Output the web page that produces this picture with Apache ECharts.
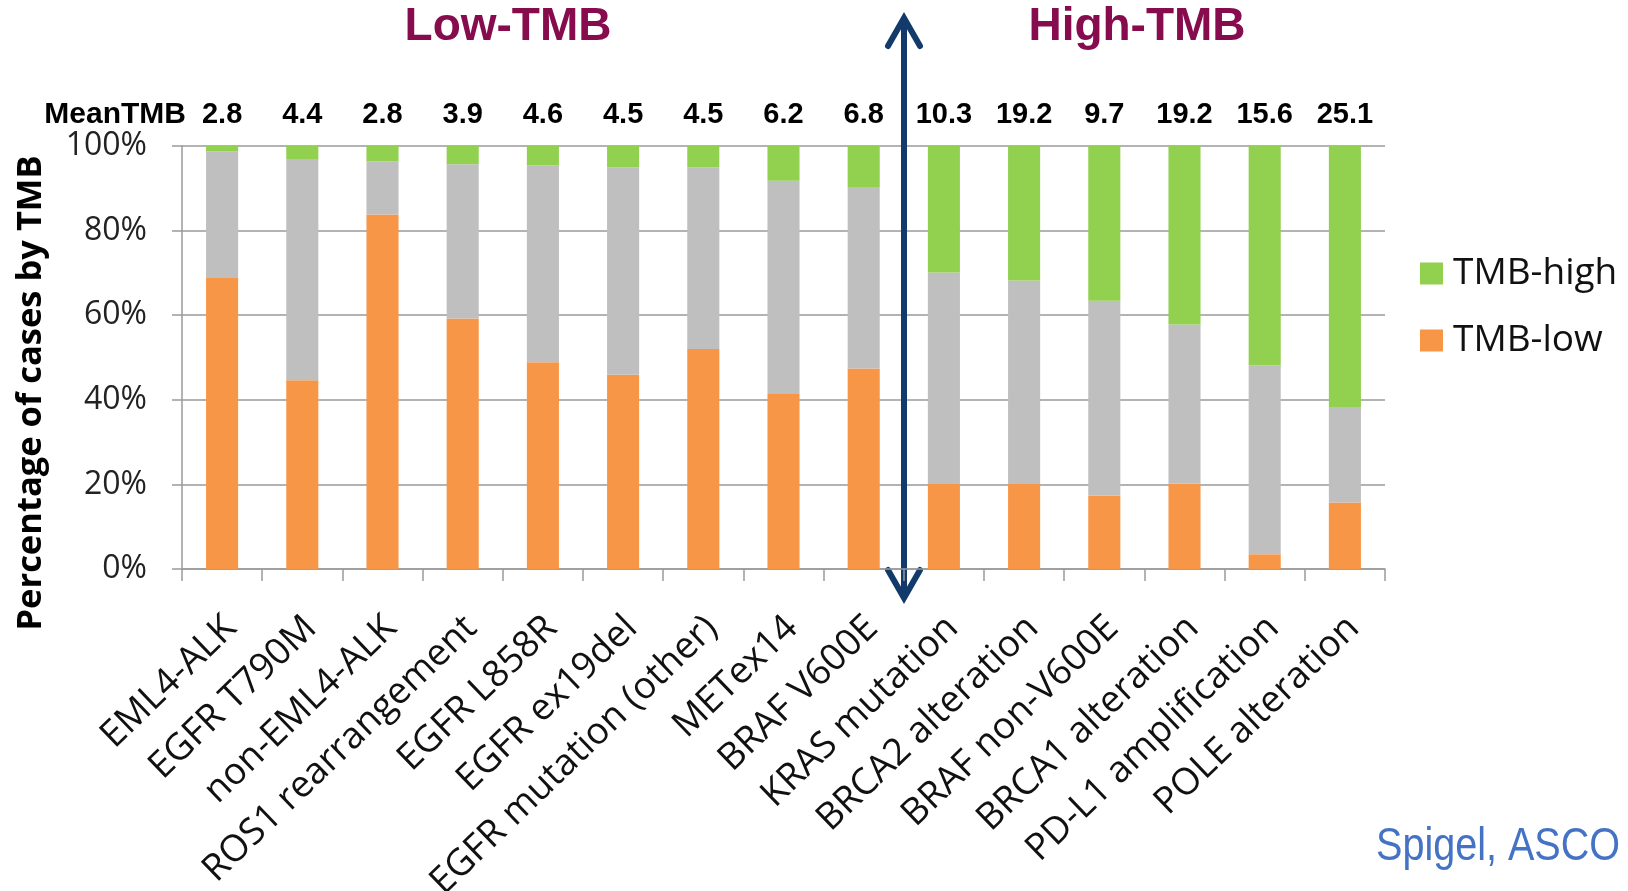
<!DOCTYPE html>
<html>
<head>
<meta charset="utf-8">
<title>Percentage of cases by TMB</title>
<script src="https://cdn.jsdelivr.net/npm/echarts@6/dist/echarts.min.js"></script>
<style>
  html, body { margin: 0; padding: 0; background: #ffffff; }
  #chart { width: 1628px; height: 891px; }
</style>
</head>
<body>
<div id="chart"></div>
<script>
// Genomic alteration groups, ordered from low to high mean TMB
const categories = [
  'EML4-ALK', 'EGFR T790M', 'non-EML4-ALK', 'ROS1 rearrangement', 'EGFR L858R',
  'EGFR ex19del', 'EGFR mutation (other)', 'METex14', 'BRAF V600E', 'KRAS mutation',
  'BRCA2 alteration', 'BRAF non-V600E', 'BRCA1 alteration', 'PD-L1 amplification', 'POLE alteration'
];

// Mean TMB per group (printed above each bar)
const meanTMB = ['2.8', '4.4', '2.8', '3.9', '4.6', '4.5', '4.5', '6.2', '6.8', '10.3', '19.2', '9.7', '19.2', '15.6', '25.1'];

// Share of cases (%) in each TMB band
const tmbLow  = [69.0, 44.6, 83.8, 59.2, 48.9, 45.9, 52.0, 41.4, 47.4, 20.1, 20.3, 17.4, 20.2, 3.5, 15.7];
const tmbMid  = [29.7, 52.3, 12.6, 36.5, 46.5, 49.1, 43.0, 50.4, 42.9, 50.0, 47.9, 46.0, 37.6, 44.6, 22.6];
const tmbHigh = [1.3, 3.1, 3.6, 4.3, 4.6, 5.0, 5.0, 8.2, 9.7, 29.9, 31.8, 36.6, 42.2, 51.9, 61.7];

// Index of the first group on the high-TMB side of the divider
const highStart = 9;

const BODY_FONT = '"Open Sans", "Noto Sans", sans-serif';
const HEAD_FONT = '"Liberation Sans", Arial, sans-serif';
const ARROW_COLOR = '#123A6B';
const TITLE_COLOR = '#860C4E';

const chart = echarts.init(document.getElementById('chart'), null, { renderer: 'canvas' });

const option = {
  backgroundColor: '#ffffff',
  animation: false,
  grid: {
    left: 182, right: 243, top: 146, bottom: 322,
    containLabel: false,
    outerBoundsMode: 'none'
  },
  legend: {
    orient: 'vertical',
    left: 1415,
    top: 250,
    itemWidth: 23,
    itemHeight: 22,
    itemGap: 30,
    icon: 'rect',
    data: ['TMB-high', 'TMB-low'],
    textStyle: {
      fontFamily: BODY_FONT,
      fontSize: 37,
      color: '#111111',
      lineHeight: 36,
      padding: [0, 0, 0, 5]
    }
  },
  xAxis: [
    {
      type: 'category',
      data: categories,
      position: 'bottom',
      axisLine: { show: true, lineStyle: { color: '#9A9A9A', width: 1.5 } },
      axisTick: { show: true, length: 12, lineStyle: { color: '#9A9A9A', width: 1.5 } },
      axisLabel: {
        interval: 0,
        rotate: 44,
        margin: 36,
        align: 'right',
        verticalAlign: 'top',
        padding: [0, 6, 0, 0],
        fontFamily: BODY_FONT,
        fontSize: 37,
        color: '#111111'
      },
      splitLine: { show: false }
    },
    {
      type: 'category',
      data: meanTMB,
      position: 'top',
      axisLine: { show: false },
      axisTick: { show: false },
      splitLine: { show: false },
      axisLabel: {
        interval: 0,
        margin: 31,
        verticalAlign: 'middle',
        fontFamily: HEAD_FONT,
        fontWeight: 'bold',
        fontSize: 29,
        color: '#000000'
      }
    }
  ],
  yAxis: {
    type: 'value',
    min: 0,
    max: 100,
    interval: 20,
    axisLine: { show: true, lineStyle: { color: '#9A9A9A', width: 1.5 } },
    axisTick: { show: true, length: 10, lineStyle: { color: '#9A9A9A', width: 1.5 } },
    axisLabel: {
      formatter: '{value}%',
      margin: 35,
      fontFamily: BODY_FONT,
      fontSize: 32,
      color: '#222222'
    },
    splitLine: { show: true, lineStyle: { color: '#9A9A9A', width: 1.5 } }
  },
  series: [
    {
      name: 'TMB-low',
      type: 'bar',
      stack: 'tmb',
      barWidth: '40%',
      data: tmbLow,
      itemStyle: { color: '#F79646' }
    },
    {
      name: 'TMB-intermediate',
      type: 'bar',
      stack: 'tmb',
      barWidth: '40%',
      data: tmbMid,
      itemStyle: { color: '#BFBFBF' }
    },
    {
      name: 'TMB-high',
      type: 'bar',
      stack: 'tmb',
      barWidth: '40%',
      data: tmbHigh,
      itemStyle: { color: '#92D050' }
    }
  ]
};

chart.setOption(option);

// Divider between the low- and high-TMB groups, placed on the category boundary
const xLeft = chart.convertToPixel({ xAxisIndex: 0 }, highStart - 1);
const xRight = chart.convertToPixel({ xAxisIndex: 0 }, highStart);
const divX = Math.round((xLeft + xRight) / 2);
const arrowTop = 18;
const arrowBottom = 598;
const head = 28;
const half = 16;

chart.setOption({
  graphic: [
    {
      type: 'text',
      x: 508, y: 27,
      style: {
        text: 'Low-TMB',
        fill: TITLE_COLOR,
        font: 'bold 46px ' + HEAD_FONT,
        align: 'center',
        verticalAlign: 'middle'
      }
    },
    {
      type: 'text',
      x: 1137, y: 27,
      style: {
        text: 'High-TMB',
        fill: TITLE_COLOR,
        font: 'bold 46px ' + HEAD_FONT,
        align: 'center',
        verticalAlign: 'middle'
      }
    },
    {
      type: 'text',
      x: 186, y: 115,
      style: {
        text: 'MeanTMB',
        fill: '#000000',
        font: 'bold 30px ' + HEAD_FONT,
        align: 'right',
        verticalAlign: 'middle'
      }
    },
    {
      type: 'text',
      x: 31, y: 393,
      rotation: Math.PI / 2,
      style: {
        text: 'Percentage of cases by TMB',
        fill: '#000000',
        font: 'bold 34.5px ' + BODY_FONT,
        align: 'center',
        verticalAlign: 'middle'
      }
    },
    {
      // source note, slightly condensed
      type: 'text',
      x: 1376, y: 870,
      scaleX: 0.86,
      style: {
        text: 'Spigel, ASCO 2018',
        fill: '#4472C4',
        font: '46px ' + HEAD_FONT,
        align: 'left',
        verticalAlign: 'bottom'
      }
    },
    {
      type: 'group',
      z: 100,
      children: [
        {
          type: 'line',
          shape: { x1: divX, y1: arrowTop + 2, x2: divX, y2: arrowBottom - 2 },
          style: { stroke: ARROW_COLOR, lineWidth: 6 }
        },
        {
          type: 'polyline',
          shape: { points: [[divX - half, arrowTop + head], [divX, arrowTop], [divX + half, arrowTop + head]] },
          style: { stroke: ARROW_COLOR, lineWidth: 6, fill: null, lineJoin: 'miter', lineCap: 'round' }
        },
        {
          type: 'polyline',
          shape: { points: [[divX - half, arrowBottom - head], [divX, arrowBottom], [divX + half, arrowBottom - head]] },
          style: { stroke: ARROW_COLOR, lineWidth: 6, fill: null, lineJoin: 'miter', lineCap: 'round' }
        }
      ]
    }
  ]
});
</script>
</body>
</html>
